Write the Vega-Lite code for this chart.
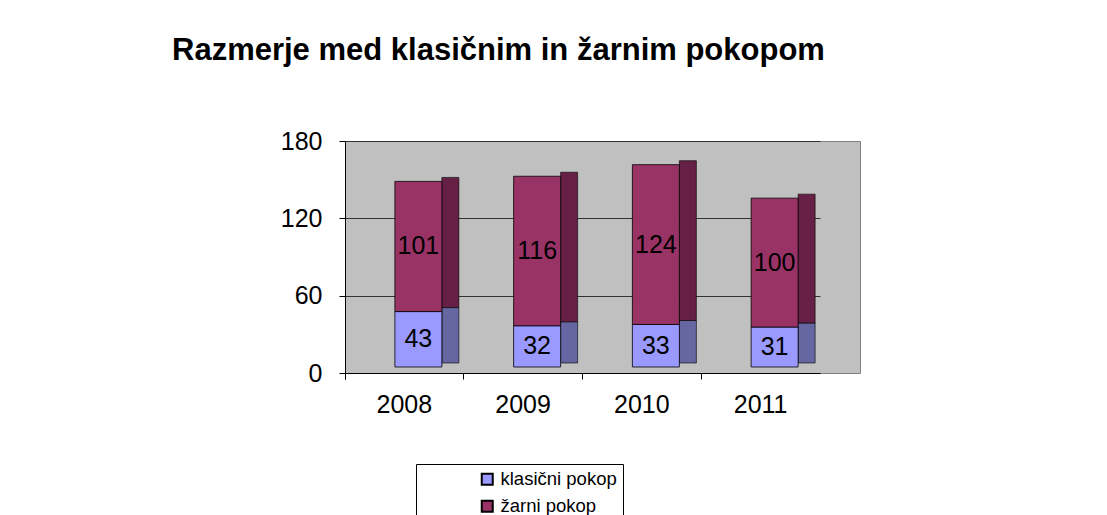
{
  "$schema": "https://vega.github.io/schema/vega-lite/v6.json",
  "width": 515,
  "height": 232,
  "autosize": {"type": "none"},
  "padding": {"left": 345, "top": 141, "right": 247, "bottom": 142},
  "background": "white",
  "title": {
    "text": "Razmerje med klasičnim in žarnim pokopom",
    "anchor": "start",
    "frame": "group",
    "font": "Liberation Sans",
    "fontSize": 31,
    "fontWeight": "bold",
    "color": "black",
    "dx": -173,
    "dy": -58
  },
  "config": {
    "view": {"fill": "#c0c0c0", "stroke": "#808080"},
    "font": "Liberation Sans"
  },
  "data": {
    "values": [
      {"year": "2008", "type": "klasični pokop", "value": 43},
      {"year": "2008", "type": "žarni pokop", "value": 101},
      {"year": "2009", "type": "klasični pokop", "value": 32},
      {"year": "2009", "type": "žarni pokop", "value": 116},
      {"year": "2010", "type": "klasični pokop", "value": 33},
      {"year": "2010", "type": "žarni pokop", "value": 124},
      {"year": "2011", "type": "klasični pokop", "value": 31},
      {"year": "2011", "type": "žarni pokop", "value": 100}
    ]
  },
  "encoding": {
    "x": {
      "field": "year",
      "type": "nominal",
      "title": null,
      "scale": {"range": [0, 475], "paddingInner": 0, "paddingOuter": 0},
      "axis": {
        "labelAngle": 0,
        "labelFontSize": 25,
        "labelColor": "black",
        "domainColor": "black",
        "tickColor": "black",
        "tickSize": 6,
        "bandPosition": 0,
        "tickExtra": true,
        "labelPadding": 13,
        "grid": false
      }
    }
  },
  "layer": [
    {
      "mark": {"type": "bar", "width": 17, "xOffset": 46, "yOffset": -10, "stroke": "black", "strokeWidth": 0.6},
      "encoding": {
        "y": {"field": "value", "type": "quantitative", "stack": "zero"},
        "order": {"field": "type", "sort": "ascending"},
        "color": {
          "field": "type",
          "type": "nominal",
          "scale": {"domain": ["klasični pokop", "žarni pokop"], "range": ["#6666a3", "#661f45"]},
          "legend": null
        }
      }
    },
    {
      "mark": {"type": "bar", "width": 47, "xOffset": 14, "yOffset": -6, "stroke": "black", "strokeWidth": 0.8},
      "encoding": {
        "y": {
          "field": "value",
          "type": "quantitative",
          "stack": "zero",
          "title": null,
          "scale": {"domain": [0, 180], "nice": false},
          "axis": {
            "values": [0, 60, 120, 180],
            "labelFontSize": 25,
            "labelColor": "black",
            "domainColor": "black",
            "tickColor": "black",
            "tickSize": 6,
            "labelPadding": 17,
            "grid": true,
            "gridColor": "#333333",
            "gridWidth": 1
          }
        },
        "order": {"field": "type", "sort": "ascending"},
        "fill": {
          "field": "type",
          "type": "nominal",
          "scale": {"domain": ["klasični pokop", "žarni pokop"], "range": ["#9999ff", "#993366"]},
          "legend": {
            "title": null,
            "orient": "none",
            "legendX": 71,
            "legendY": 323,
            "symbolType": "square",
            "symbolSize": 121,
            "symbolStrokeColor": "black",
            "symbolStrokeWidth": 2,
            "labelFontSize": 18.5,
            "labelColor": "black",
            "labelOffset": 4,
            "rowPadding": 7,
            "strokeColor": "black",
            "fillColor": "white",
            "padding": 6,
            "symbolOffset": 56,
            "encoding": {"legend": {"update": {"width": {"value": 251}}}}
          }
        }
      }
    },
    {
      "transform": [
        {"stack": "value", "groupby": ["year"], "sort": [{"field": "type"}], "as": ["v0", "v1"]},
        {"calculate": "(datum.v0 + datum.v1) / 2", "as": "mid"}
      ],
      "mark": {"type": "text", "fontSize": 25, "color": "black", "xOffset": 14, "yOffset": -6},
      "encoding": {
        "y": {"field": "mid", "type": "quantitative"},
        "text": {"field": "value", "type": "quantitative"}
      }
    }
  ],
  "resolve": {"scale": {"color": "independent"}}
}
